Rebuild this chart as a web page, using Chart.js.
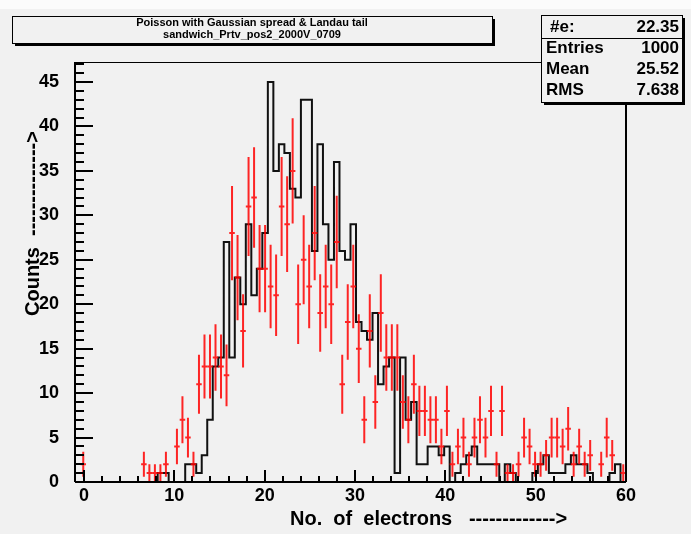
<!DOCTYPE html>
<html>
<head>
<meta charset="utf-8">
<script src="https://cdn.jsdelivr.net/npm/chart.js@4.4.1/dist/chart.umd.min.js"></script>
<style>
  html, body { margin: 0; padding: 0; background: #f1f1f1; }
</style>
</head>
<body>
<canvas id="histo" width="691" height="534"></canvas>
<script>
// binning: 100 bins from -1 to 60
const xMin = -1;
const xMax = 60;
const binWidth = 0.61;
const yMax = 47.25;

// black histogram (measured), one value per bin
const dataCounts = [
  0, 0, 0, 0, 0, 0, 0, 0, 0, 0,
  0, 0, 0, 0, 0, 1, 1, 0, 0, 0,
  2, 2, 1, 3, 7, 13, 14, 27, 14, 23,
  20, 29, 21, 24, 28, 45, 35, 38, 37, 33,
  32, 43, 43, 26, 38, 29, 25, 36, 26, 25,
  29, 18, 17, 16, 19, 11, 13, 14, 1, 14,
  7, 9, 2, 2, 4, 4, 3, 4, 0, 1,
  2, 3, 4, 2, 2, 2, 2, 0, 2, 1,
  0, 0, 0, 1, 2, 3, 1, 1, 1, 2,
  3, 2, 2, 1, 0, 0, 0, 1, 2, 0
];

// red points (model), one value per bin
const simCounts = [
  0, 2, 0, 0, 0, 0, 0, 0, 0, 0,
  0, 0, 2, 1, 1, 1, 2, 0, 4, 7,
  5, 2, 11, 13, 13, 14, 13, 12, 28, 23,
  17, 31, 32, 24, 24, 22, 21, 31, 29, 35,
  20, 25, 22, 28, 19, 22, 20, 27, 11, 18,
  22, 15, 7, 17, 9, 19, 14, 14, 14, 9,
  7, 11, 8, 8, 7, 7, 4, 8, 2, 4,
  5, 2, 5, 7, 5, 8, 2, 8, 1, 1,
  2, 5, 4, 2, 2, 3, 5, 5, 4, 6,
  2, 4, 2, 3, 0, 2, 5, 3, 0, 1
];

const titleLines = ["Poisson with Gaussian spread & Landau tail", "sandwich_Prtv_pos2_2000V_0709"];
const statNames = ["#e:", "Entries", "Mean", "RMS"];
const statValues = ["22.35", "1000", "25.52", "7.638"];
const xTitle = "No.  of  electrons   ------------->";
const yTitle = "Counts  -------------->";

const FONT = '"Liberation Sans", Arial, sans-serif';

// outline points at the bin edges
const outline = [{ x: xMin, y: 0 }];
dataCounts.forEach((c, i) => outline.push({ x: xMin + i * binWidth, y: c }));
outline.push({ x: xMin + dataCounts.length * binWidth, y: 0 });

const points = [];
simCounts.forEach((c, i) => {
  if (c > 0) points.push({ x: xMin + (i + 0.5) * binWidth, y: c });
});

function paveBox(ctx, x, y, w, h) {
  ctx.fillStyle = '#000';
  ctx.fillRect(x + 3, y + 3, w, h);
  ctx.fillStyle = '#f1f1f1';
  ctx.fillRect(x, y, w, h);
  ctx.strokeStyle = '#000';
  ctx.lineWidth = 1;
  ctx.strokeRect(x + 0.5, y + 0.5, w, h);
}

const rootLook = {
  id: 'rootLook',
  beforeDraw(chart) {
    const ctx = chart.ctx;
    ctx.save();
    ctx.fillStyle = '#f1f1f1';
    ctx.fillRect(0, 0, chart.width, chart.height);
    ctx.fillStyle = '#fbfbfb';
    ctx.fillRect(0, 0, chart.width, 9);
    ctx.restore();
  },
  afterDatasetsDraw(chart) {
    const ctx = chart.ctx;
    const xs = chart.scales.x, ys = chart.scales.y;
    const a = chart.chartArea;
    ctx.save();
    ctx.beginPath();
    ctx.rect(a.left, a.top, a.right - a.left, a.bottom - a.top);
    ctx.clip();
    ctx.strokeStyle = 'rgba(255,0,0,0.85)';
    ctx.lineWidth = 2;
    points.forEach(p => {
      const err = Math.sqrt(p.y);
      const px = xs.getPixelForValue(p.x);
      const py = ys.getPixelForValue(p.y);
      ctx.beginPath();
      ctx.moveTo(xs.getPixelForValue(p.x - binWidth / 2), py);
      ctx.lineTo(xs.getPixelForValue(p.x + binWidth / 2), py);
      ctx.moveTo(px, ys.getPixelForValue(Math.max(0, p.y - err)));
      ctx.lineTo(px, ys.getPixelForValue(p.y + err));
      ctx.stroke();
    });
    ctx.restore();
  },
  afterDraw(chart) {
    const ctx = chart.ctx;
    const xs = chart.scales.x, ys = chart.scales.y;
    const a = chart.chartArea;
    ctx.save();
    // frame
    ctx.strokeStyle = '#000';
    ctx.lineWidth = 1;
    ctx.strokeRect(a.left + 0.5, a.top + 0.5, a.right - a.left - 1, a.bottom - a.top - 1);
    ctx.lineWidth = 2;
    ctx.beginPath();
    ctx.moveTo(a.left, a.bottom);
    ctx.lineTo(a.left, a.top);
    ctx.moveTo(a.left, a.bottom);
    ctx.lineTo(a.right, a.bottom);
    ctx.moveTo(a.right, a.top);
    ctx.lineTo(a.right, a.bottom);
    ctx.stroke();
    // ticks inside the frame
    ctx.lineWidth = 2;
    ctx.beginPath();
    for (let v = 0; v <= ys.max; v += 1) {
      const py = Math.round(ys.getPixelForValue(v));
      const len = v % 5 === 0 ? 18 : 9;
      ctx.moveTo(a.left, py);
      ctx.lineTo(a.left + len, py);
    }
    for (let v = 0; v <= xs.max; v += 2) {
      const px = Math.round(xs.getPixelForValue(v));
      const len = v % 10 === 0 ? 12 : 6;
      ctx.moveTo(px, a.bottom);
      ctx.lineTo(px, a.bottom - len);
    }
    ctx.stroke();

    // axis titles
    ctx.fillStyle = '#000';
    ctx.font = 'bold 20px ' + FONT;
    ctx.textBaseline = 'middle';
    ctx.textAlign = 'left';
    ctx.fillText(xTitle, 290, 519);
    ctx.save();
    ctx.translate(33, 316);
    ctx.rotate(-Math.PI / 2);
    ctx.fillText(yTitle, 0, 0);
    ctx.restore();

    // title pave
    paveBox(ctx, 12, 16, 480, 27);
    ctx.fillStyle = '#000';
    ctx.font = 'bold 11px ' + FONT;
    ctx.textAlign = 'center';
    ctx.fillText(titleLines[0], 252, 23);
    ctx.fillText(titleLines[1], 252, 35);

    // stats pave
    paveBox(ctx, 541, 15, 141, 87);
    ctx.fillStyle = '#000';
    ctx.fillRect(541, 38, 141, 1);
    ctx.font = 'bold 17px ' + FONT;
    const rowsY = [27, 48, 69, 90];
    statNames.forEach((n, i) => {
      ctx.textAlign = 'left';
      ctx.fillText(n, i === 0 ? 550 : 546, rowsY[i]);
      ctx.textAlign = 'right';
      ctx.fillText(statValues[i], 679, rowsY[i]);
    });
    ctx.restore();
  }
};

const tickFont = { family: FONT, size: 18, weight: 'bold' };

new Chart(document.getElementById('histo'), {
  type: 'scatter',
  data: {
    datasets: [
      {
        label: 'data',
        data: outline,
        showLine: true,
        stepped: 'before',
        borderColor: '#111',
        borderWidth: 2,
        pointRadius: 0,
        fill: false
      },
      {
        label: 'model',
        data: points,
        pointRadius: 0,
        showLine: false
      }
    ]
  },
  options: {
    responsive: false,
    animation: false,
    devicePixelRatio: 1,
    layout: { padding: { left: 0, right: 65, top: 62, bottom: 0 } },
    plugins: { legend: { display: false }, tooltip: { enabled: false } },
    scales: {
      x: {
        type: 'linear',
        min: xMin,
        max: xMax,
        grid: { display: false },
        border: { display: false },
        ticks: { stepSize: 10, includeBounds: false, font: tickFont, color: '#000', padding: -5, maxRotation: 0 },
        afterFit(s) { s.height = 52; }
      },
      y: {
        min: 0,
        max: yMax,
        grid: { display: false },
        border: { display: false },
        ticks: { stepSize: 5, includeBounds: false, font: tickFont, color: '#000', padding: 8 },
        afterFit(s) { s.width = 75; }
      }
    }
  },
  plugins: [rootLook]
});
</script>
</body>
</html>
